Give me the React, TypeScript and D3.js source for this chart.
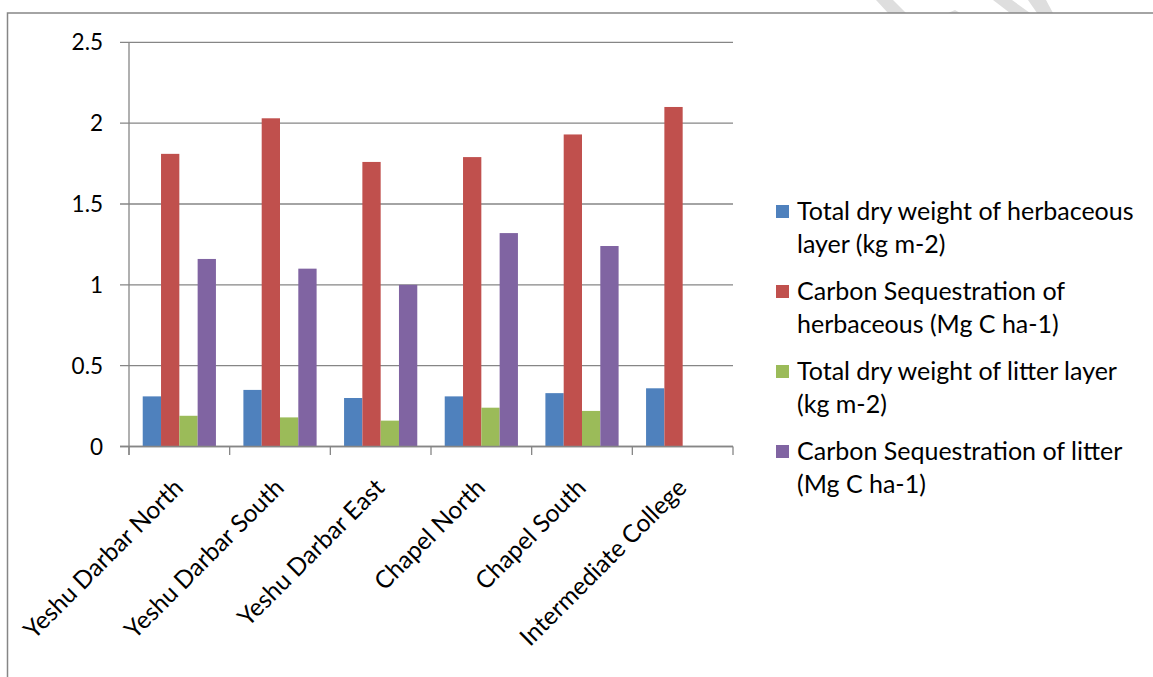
import React from "react";
import * as d3 from "d3";

const categories = [
  "Yeshu Darbar North",
  "Yeshu Darbar South",
  "Yeshu Darbar East",
  "Chapel North",
  "Chapel South",
  "Intermediate College",
];
const herbDryWeight = [0.31, 0.35, 0.3, 0.31, 0.33, 0.36];
const herbCarbon = [1.81, 2.03, 1.76, 1.79, 1.93, 2.1];
const litterDryWeight: (number | null)[] = [0.19, 0.18, 0.16, 0.24, 0.22, null];
const litterCarbon: (number | null)[] = [1.16, 1.1, 1.0, 1.32, 1.24, null];
const yTicks = [0, 0.5, 1, 1.5, 2, 2.5];

const seriesNames = [
  ["Total dry weight of herbaceous", "layer (kg m-2)"],
  ["Carbon Sequestration of", "herbaceous (Mg C ha-1)"],
  ["Total dry weight of litter layer", "(kg m-2)"],
  ["Carbon Sequestration of litter", "(Mg C ha-1)"],
];
const seriesColors = ["#4F81BD", "#C0504D", "#9BBB59", "#8064A2"];
const seriesValues = [herbDryWeight, herbCarbon, litterDryWeight, litterCarbon];

const W = 1153;
const H = 677;
const FONT = "Lato, 'Open Sans', sans-serif";
const axisColor = "#868686";

export default function App() {
  const x = d3.scaleBand<string>().domain(categories).range([129, 733]).paddingInner(0).paddingOuter(0);
  const y = d3.scaleLinear().domain([0, 2.5]).range([446.5, 42.3]);
  const step = x.step();
  const barW = step / (seriesValues.length + 1.5);
  const inner = d3
    .scaleBand<number>()
    .domain(d3.range(seriesValues.length))
    .range([barW * 0.75, barW * 0.75 + barW * seriesValues.length]);

  return (
    <svg
      width={W}
      height={H}
      viewBox={`0 0 ${W} ${H}`}
      style={{ position: "absolute", left: 0, top: 0, background: "#fff" }}
    >
      {/* watermark strokes */}
      <g fill="#dedede">
        <polygon points="876,0 893,0 906,13 888,13" />
        <polygon points="993,0 1012,0 1030,13 1010,13" />
        <polygon points="1028,0 1046,0 1053,13 1037,13" />
        <polygon points="948,13 955,10 960,13" />
      </g>
      {/* outer frame */}
      <rect x={7.5} y={13} width={W + 20} height={H + 20} fill="none" stroke={axisColor} strokeWidth={1.5} />

      {/* gridlines + y ticks */}
      {yTicks.map((t) => (
        <g key={t}>
          <line x1={120} x2={733} y1={y(t)} y2={y(t)} stroke={axisColor} strokeWidth={1.3} />
          <text
            x={103}
            y={y(t)}
            dy="0.36em"
            textAnchor="end"
            fontFamily={FONT}
            fontSize={22.5}
            fill="#000"
          >
            {t}
          </text>
        </g>
      ))}

      {/* bars */}
      {categories.map((c, i) => (
        <g key={c} transform={`translate(${x(c)},0)`}>
          {seriesValues.map((vals, s) => {
            const v = vals[i];
            if (v == null) return null;
            return (
              <rect
                key={s}
                x={inner(s)}
                width={inner.bandwidth()}
                y={y(v)}
                height={y(0) - y(v)}
                fill={seriesColors[s]}
              />
            );
          })}
        </g>
      ))}

      {/* y axis */}
      <line x1={129} x2={129} y1={42.3} y2={455} stroke={axisColor} strokeWidth={1.3} />
      {/* x axis */}
      <line x1={120} x2={733} y1={y(0)} y2={y(0)} stroke={axisColor} strokeWidth={1.3} />
      {d3.range(categories.length + 1).map((k) => (
        <line
          key={k}
          x1={129 + k * step}
          x2={129 + k * step}
          y1={y(0)}
          y2={455}
          stroke={axisColor}
          strokeWidth={1.3}
        />
      ))}

      {/* x labels */}
      {categories.map((c) => (
        <text
          key={c}
          transform={`translate(${(x(c) as number) + step / 2 - 5},479) rotate(-45)`}
          textAnchor="end"
          dy="0.6em"
          fontFamily={FONT}
          fontSize={24.5}
          fill="#000"
        >
          {c}
        </text>
      ))}

      {/* legend */}
      {seriesNames.map((lines, s) => {
        const base = 220 + s * 80;
        return (
          <g key={s}>
            <rect x={776} y={base - 15} width={13} height={13} fill={seriesColors[s]} />
            {lines.map((ln, j) => (
              <text key={j} x={797} y={base + j * 32.5} fontFamily={FONT} fontSize={25} fill="#000">
                {ln}
              </text>
            ))}
          </g>
        );
      })}
    </svg>
  );
}
